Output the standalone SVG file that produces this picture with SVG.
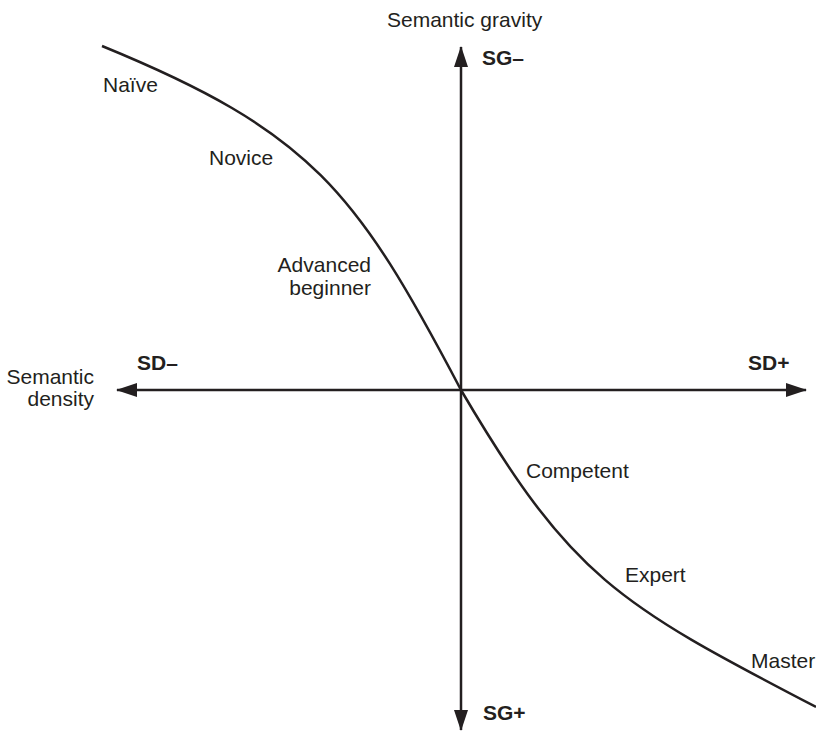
<svg xmlns="http://www.w3.org/2000/svg" width="816" height="732" viewBox="0 0 816 732">
  <style>
    .lbl { font-family: "Liberation Sans", Arial, sans-serif; font-size: 21px; fill: #231f20; }
    .b { font-weight: bold; }
    .ax { stroke: #231f20; stroke-width: 2.5; fill: none; }
    .cv { stroke: #231f20; stroke-width: 2.5; fill: none; }
  </style>
  <defs>
    <marker id="ah" markerUnits="userSpaceOnUse" markerWidth="21" markerHeight="14" refX="20" refY="7" orient="auto-start-reverse" viewBox="0 0 21 14">
      <path d="M0,0 L21,7 L0,14 z" fill="#231f20"/>
    </marker>
  </defs>
  <rect width="816" height="732" fill="#ffffff"/>
  <g id="connectors">
    <line class="ax" x1="461" y1="730" x2="461" y2="47" marker-start="url(#ah)" marker-end="url(#ah)"/>
    <line class="ax" x1="117" y1="390" x2="806" y2="390" marker-start="url(#ah)" marker-end="url(#ah)"/>
    <path class="cv" d="M102,46 C312,132 356,190.5 461,390 C571,577 616,603 816,707"/>
  </g>
  <g id="axis-labels">
    <text class="lbl" x="387" y="27">Semantic gravity</text>
    <text class="lbl" x="94" y="384" text-anchor="end">Semantic</text>
    <text class="lbl" x="94" y="406" text-anchor="end">density</text>
    <text class="lbl b" x="482" y="65">SG–</text>
    <text class="lbl b" x="483" y="720">SG+</text>
    <text class="lbl b" x="137" y="370">SD–</text>
    <text class="lbl b" x="748" y="370">SD+</text>
  </g>
  <g id="naive"><text class="lbl" x="103" y="92">Naïve</text></g>
  <g id="novice"><text class="lbl" x="209" y="165">Novice</text></g>
  <g id="advanced-beginner">
    <text class="lbl" x="371" y="272" text-anchor="end">Advanced</text>
    <text class="lbl" x="371" y="295" text-anchor="end">beginner</text>
  </g>
  <g id="competent"><text class="lbl" x="526" y="478">Competent</text></g>
  <g id="expert"><text class="lbl" x="625" y="582">Expert</text></g>
  <g id="master"><text class="lbl" x="751" y="668">Master</text></g>
</svg>
